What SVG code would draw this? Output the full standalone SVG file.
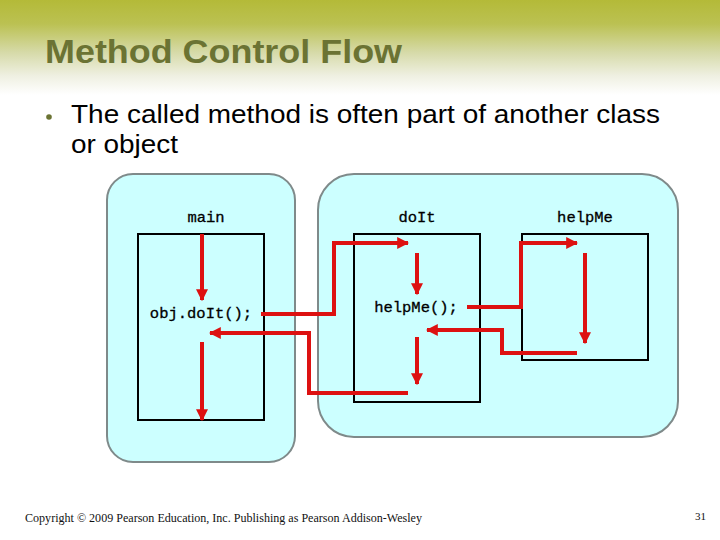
<svg xmlns="http://www.w3.org/2000/svg" width="720" height="540" viewBox="0 0 720 540">
<defs>
<linearGradient id="hdr" x1="0" y1="0" x2="0" y2="1">
<stop offset="0" stop-color="#B4BA38"/>
<stop offset="0.25" stop-color="#BBC152"/>
<stop offset="0.55" stop-color="#D6DAA8"/>
<stop offset="0.8" stop-color="#EFF0E2"/>
<stop offset="1" stop-color="#FFFFFF"/>
</linearGradient>
<marker id="ah" viewBox="0 0 10 10" refX="9" refY="5" markerWidth="3" markerHeight="3" orient="auto" markerUnits="strokeWidth">
<path d="M0,0 L10,5 L0,10 z" fill="#DD1111"/>
</marker>
<style>
.obj{fill:#CCFFFF;stroke:#7F8A8A;stroke-width:2}
.box{fill:none;stroke:#000;stroke-width:2}
.code{font-family:"Liberation Mono","Courier New",monospace;font-size:15.5px;fill:#000;stroke:#000;stroke-width:0.3;text-anchor:middle}
.flow{fill:none;stroke:#DD1111;stroke-width:4;marker-end:url(#ah)}
</style>
</defs>
<rect x="0" y="0" width="720" height="540" fill="#fff"/>
<rect x="0" y="0" width="720" height="95" fill="url(#hdr)"/>
<text x="45" y="63" font-family="Liberation Sans, Arial, sans-serif" font-weight="bold" font-size="33" fill="#6B7333" textLength="357" lengthAdjust="spacingAndGlyphs">Method Control Flow</text>
<circle cx="49" cy="117" r="2.8" fill="#6B7333"/>
<g font-family="Liberation Sans, Arial, sans-serif" font-size="25" fill="#000">
<text x="71" y="123" textLength="589" lengthAdjust="spacingAndGlyphs">The called method is often part of another class</text>
<text x="71" y="153" textLength="107" lengthAdjust="spacingAndGlyphs">or object</text>
</g>
<g id="mainObj">
<rect class="obj" x="107" y="174" width="188" height="288" rx="26"/>
</g>
<g id="otherObj">
<rect class="obj" x="318" y="174" width="360" height="263" rx="36"/>
</g>
<g id="main">
<rect class="box" x="138" y="234" width="126" height="186"/>
<text class="code" x="206" y="222">main</text>
<text class="code" x="201" y="318">obj.doIt();</text>
</g>
<g id="doIt">
<rect class="box" x="354" y="234" width="126" height="168"/>
<text class="code" x="417" y="222">doIt</text>
<text class="code" x="416" y="312">helpMe();</text>
</g>
<g id="helpMe">
<rect class="box" x="522" y="234" width="126" height="126"/>
<text class="code" x="585" y="222">helpMe</text>
</g>
<g id="connectors">
<path class="flow" d="M202,234 V300"/>
<path class="flow" d="M261,314 H334 V243 H408"/>
<path class="flow" d="M417,253 V294"/>
<path class="flow" d="M467,307 H521 V243 H577"/>
<path class="flow" d="M585,253 V343"/>
<path class="flow" d="M577,353 H502 V330 H427"/>
<path class="flow" d="M417,337 V384"/>
<path class="flow" d="M408,393 H309 V333 H210"/>
<path class="flow" d="M202,342 V420"/>
</g>
<text x="25" y="522" font-family="Liberation Serif, Times New Roman, serif" font-size="12" fill="#111" textLength="397" lengthAdjust="spacingAndGlyphs">Copyright © 2009 Pearson Education, Inc. Publishing as Pearson Addison-Wesley</text>
<text x="706" y="520" font-family="Liberation Serif, Times New Roman, serif" font-size="11" fill="#111" text-anchor="end">31</text>
</svg>
